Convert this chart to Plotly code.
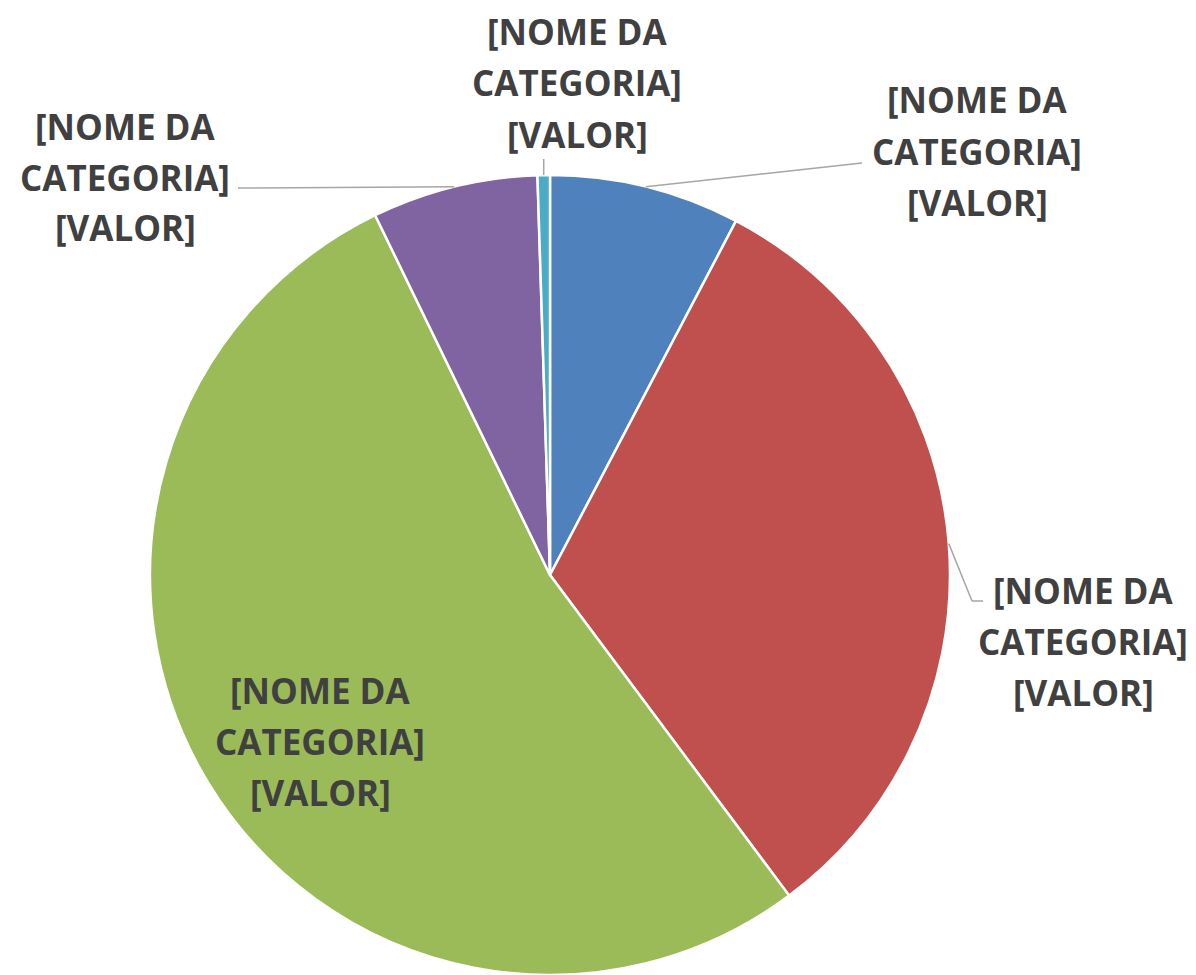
import plotly.graph_objects as go
import numpy as np

# slices, clockwise from 12 o'clock
categories = ["Azul", "Vermelho", "Verde", "Roxo", "Turquesa"]
values = [7.7, 32.1, 53.0, 6.7, 0.5]
colors = ["#4F81BD", "#C0504D", "#9BBB59", "#8064A2", "#4BACC6"]
label_lines = ["[NOME DA", "CATEGORIA]", "[VALOR]"]

W, H = 1196, 975
CX, CY, R = 550, 575, 400
OFF = 8  # page body margin


def px(x):
    return (x - OFF) / W


def py(y):
    return 1 - (y - OFF) / H


fig = go.Figure()

fig.add_trace(go.Pie(
    labels=categories,
    values=values,
    sort=False,
    direction="clockwise",
    rotation=0,
    marker=dict(colors=colors, line=dict(color="white", width=2.5)),
    textinfo="none",
    hoverinfo="label+value",
    showlegend=False,
    domain=dict(x=[px(CX - R), px(CX + R)], y=[py(CY + R), py(CY - R)]),
))

# mid angle of each slice -> point on the rim for leader lines
cum = np.cumsum([0] + values)
total = cum[-1]
mids = [(cum[i] + cum[i + 1]) / 2 / total * 2 * np.pi for i in range(len(values))]
rim = [(CX + R * np.sin(a), CY - R * np.cos(a)) for a in mids]

# label block centres (x, y of first line) in pixels; green is inside
label_pos = {
    0: (977, 100),
    1: (1083, 590),
    2: (320, 690),
    3: (125, 126),
    4: (577, 32),
}
line_gap = 51

annotations = []
for i, (lx, ly) in label_pos.items():
    for k, t in enumerate(label_lines):
        annotations.append(dict(
            x=px(lx), y=py(ly + k * line_gap), xref="paper", yref="paper",
            text="<b>" + t + "</b>", showarrow=False, xanchor="center", yanchor="middle",
            font=dict(family="Open Sans", size=35, color="#404040"),
        ))

lc = dict(color="#A6A6A6", width=1.5)
shapes = []
# blue: rim -> left of label middle line
bx, by = rim[0]
shapes.append(dict(type="line", xref="paper", yref="paper",
                   x0=px(bx), y0=py(by), x1=px(862), y1=py(163), line=lc))
# red: rim -> elbow -> label
rx, ry = rim[1]
shapes.append(dict(type="line", xref="paper", yref="paper",
                   x0=px(rx), y0=py(ry), x1=px(972), y1=py(601), line=lc))
shapes.append(dict(type="line", xref="paper", yref="paper",
                   x0=px(972), y0=py(601), x1=px(983), y1=py(601), line=lc))
# purple: rim -> label
ux, uy = rim[3]
shapes.append(dict(type="line", xref="paper", yref="paper",
                   x0=px(ux), y0=py(uy), x1=px(238), y1=py(188), line=lc))
# teal: rim straight up to label
tx, ty = rim[4]
shapes.append(dict(type="line", xref="paper", yref="paper",
                   x0=px(tx), y0=py(ty), x1=px(tx), y1=py(159), line=lc))

fig.update_layout(
    width=W, height=H,
    margin=dict(l=0, r=0, t=0, b=0),
    paper_bgcolor="white",
    plot_bgcolor="white",
    annotations=annotations,
    shapes=shapes,
)

fig.write_html("out.html")
